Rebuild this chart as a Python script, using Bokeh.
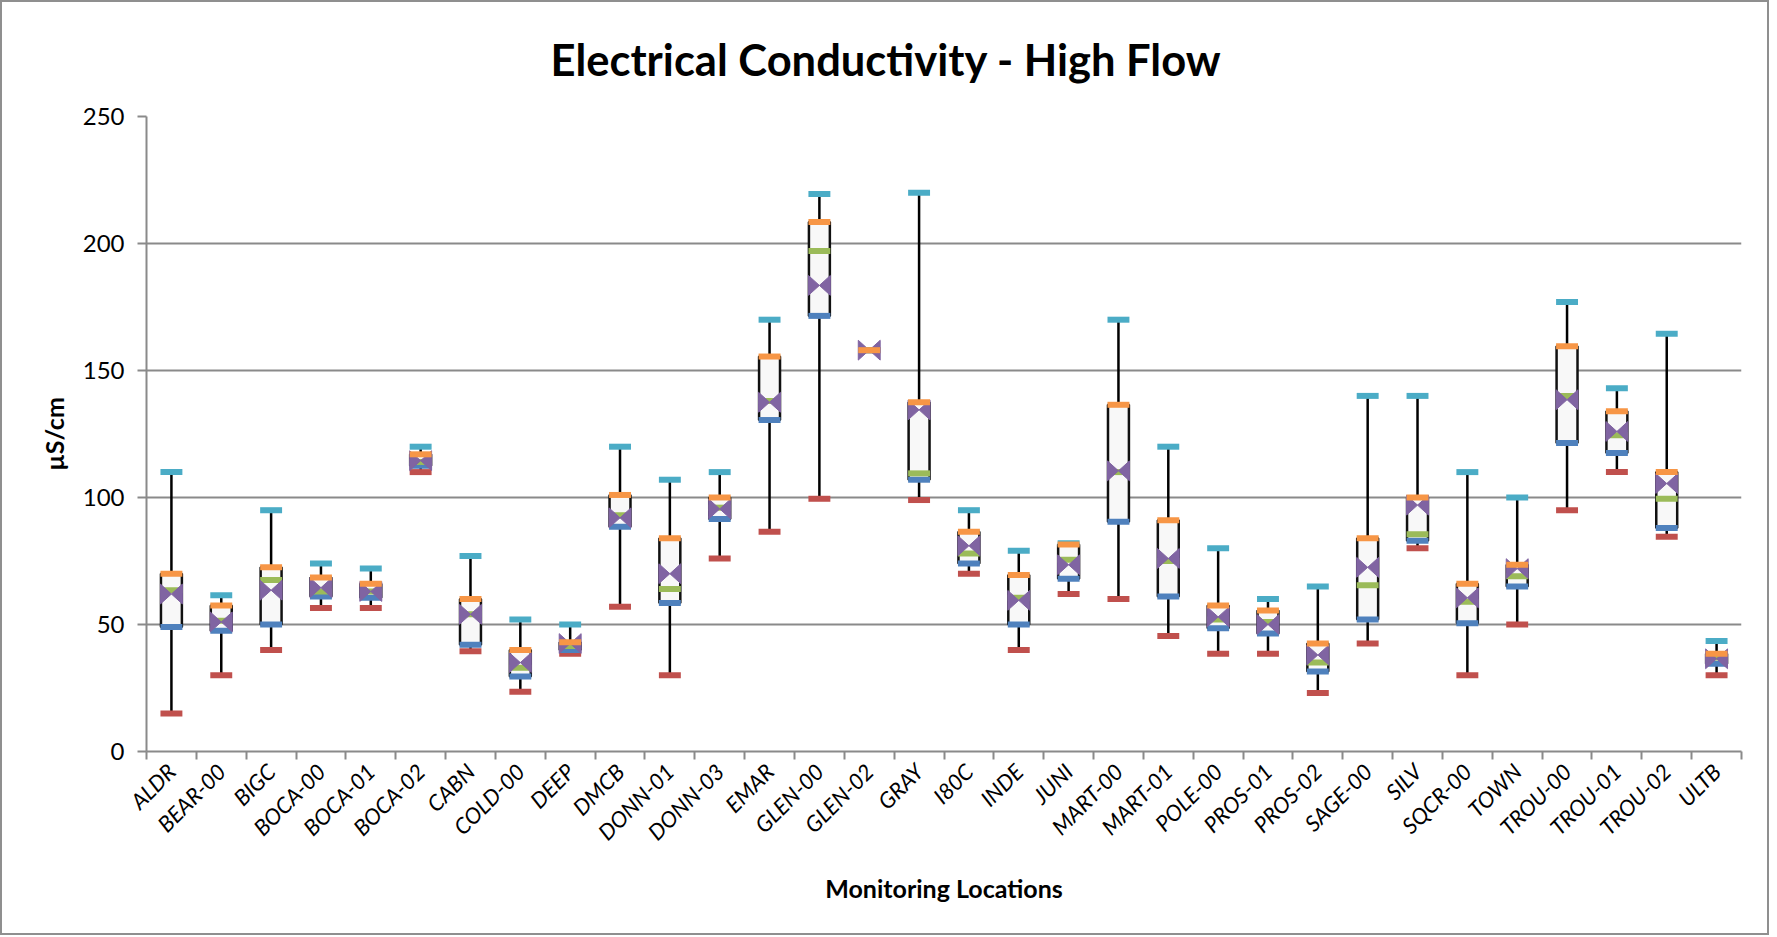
import math
from bokeh.plotting import figure
from bokeh.models import (Range1d, LinearAxis, FixedTicker, ColumnDataSource, Grid, Title)
from bokeh.embed import file_html
from bokeh.resources import INLINE

# ---------------- data ----------------
categories = ["ALDR", "BEAR-00", "BIGC", "BOCA-00", "BOCA-01", "BOCA-02", "CABN", "COLD-00",
              "DEEP", "DMCB", "DONN-01", "DONN-03", "EMAR", "GLEN-00", "GLEN-02", "GRAY",
              "I80C", "INDE", "JUNI", "MART-00", "MART-01", "POLE-00", "PROS-01", "PROS-02",
              "SAGE-00", "SILV", "SQCR-00", "TOWN", "TROU-00", "TROU-01", "TROU-02", "ULTB"]

minimum = [15, 30, 40, 56.5, 56.5, 110, 39.5, 23.5, 38.5, 57, 30, 76, 86.5, 99.5, 158, 99,
           70, 40, 62, 60, 45.5, 38.5, 38.5, 23, 42.5, 80, 30, 50, 95, 110, 84.5, 30]
quartile1 = [49, 47.5, 50, 61, 60.5, 112.5, 42, 29.5, 40, 88.5, 58.5, 91.5, 130.5, 171.5, 158, 107,
             74, 50, 68, 90.5, 61, 48.5, 46.5, 31.5, 52, 83, 50.5, 65, 121.5, 117.5, 88, 34.5]
median = [63.5, 51.5, 67.5, 63, 63, 114, 54, 33, 41.5, 93, 64, 96, 138, 197, 158, 109.5,
          78, 60.5, 75.5, 110, 75, 52, 51, 35, 65.5, 85.5, 59, 69, 140, 124.5, 99.5, 37]
mean = [62, 51, 63.5, 64.5, 63, 114.5, 54, 35, 42.5, 92, 70, 95.5, 137.5, 183.5, 158, 134.5,
        81, 59.5, 73.5, 110.5, 76, 53, 50, 38, 72.5, 97, 60.5, 72, 138.5, 126, 105.5, 36.5]
quartile3 = [70, 57.5, 72.5, 68.5, 66, 117, 60, 40, 43, 101, 84, 100, 155.5, 208.5, 158, 137.5,
             86.5, 69.5, 81.5, 136.5, 91, 57.5, 55.5, 42.5, 84, 100, 66, 73.5, 159.5, 134, 110, 38.5]
maximum = [110, 61.5, 95, 74, 72, 120, 77, 52, 50, 120, 107, 110, 170, 219.5, 158, 220,
           95, 79, 82, 170, 120, 80, 60, 65, 140, 140, 110, 100, 177, 143, 164.5, 43.5]

y_ticks = [0, 50, 100, 150, 200, 250]
title_text = "Electrical Conductivity - High Flow"
x_title = "Monitoring Locations"
y_title = "\u00b5S/cm"

# ---------------- styling ----------------
FONT = "Lato"
GRID = "#8a8a8a"
C_MAX, C_MIN, C_Q1, C_MED, C_MEAN, C_Q3 = "#4BACC6", "#C0504D", "#4F81BD", "#9BBB59", "#8064A2", "#F79646"

n = len(categories)
xc = [i + 0.5 for i in range(n)]
src = ColumnDataSource(dict(x=xc, mn=minimum, q1=quartile1, med=median, avg=mean,
                            q3=quartile3, mx=maximum))

p = figure(x_range=Range1d(0, n), y_range=Range1d(0, 250),
           frame_width=1595, frame_height=635,
           min_border_left=144, min_border_right=26, min_border_top=114, min_border_bottom=182,
           x_axis_location=None, y_axis_location=None,
           output_backend="svg", toolbar_location=None)
p.outline_line_color = None
p.background_fill_color = "white"
p.border_fill_color = "white"
p.styles = {"border": "2px solid #8f8f8f"}

# remove default grids
for r in list(p.center):
    if isinstance(r, Grid):
        r.visible = False

# title
p.title = Title(text=title_text, align="left", offset=404, vertical_align="top",
                standoff=59, text_font=FONT, text_font_style="bold",
                text_font_size="43.5px", text_color="black")

# invisible spacer between title and plot area
spacer = LinearAxis(ticker=FixedTicker(ticks=[]), axis_line_color=None,
                    major_tick_line_color=None, minor_tick_line_color=None,
                    major_tick_in=0, major_tick_out=6, minor_tick_in=0, minor_tick_out=0,
                    major_label_standoff=0)
p.add_layout(spacer, "above")

# y axis
yaxis = LinearAxis(ticker=FixedTicker(ticks=y_ticks),
                   axis_line_color=GRID, axis_line_width=2,
                   major_tick_line_color=GRID, major_tick_line_width=2,
                   major_tick_in=0, major_tick_out=9,
                   minor_tick_line_color=None,
                   major_label_text_font=FONT, major_label_text_font_size="24px",
                   major_label_text_color="black", major_label_standoff=13,
                   axis_label=y_title, axis_label_text_font=FONT,
                   axis_label_text_font_style="bold", axis_label_text_font_size="25px",
                   axis_label_text_color="black", axis_label_standoff=11)
p.add_layout(yaxis, "left")
p.add_layout(Grid(dimension=1, ticker=yaxis.ticker, grid_line_color=GRID, grid_line_width=2))

# x axis: names at category centres, ticks at category boundaries
xaxis = LinearAxis(ticker=FixedTicker(ticks=xc, minor_ticks=list(range(n + 1))),
                   major_label_overrides={x: c for x, c in zip(xc, categories)},
                   axis_line_color=GRID, axis_line_width=2,
                   major_tick_line_color=None, major_tick_in=0, major_tick_out=8,
                   minor_tick_line_color=GRID, minor_tick_line_width=2,
                   minor_tick_in=0, minor_tick_out=8,
                   major_label_orientation=math.pi / 4,
                   major_label_text_font=FONT, major_label_text_font_style="italic",
                   major_label_text_font_size="22px", major_label_text_color="black",
                   major_label_standoff=8,
                   axis_label=x_title, axis_label_text_font=FONT,
                   axis_label_text_font_style="bold", axis_label_text_font_size="25px",
                   axis_label_text_color="black", axis_label_standoff=15)
p.add_layout(xaxis, "below")

# whiskers and boxes
p.segment(x0="x", y0="mn", x1="x", y1="mx", line_color="black", line_width=2.5, source=src)
p.vbar(x="x", width=0.42, bottom="q1", top="q3", fill_color="#F8F8F8",
       line_color="#111111", line_width=2.5, source=src)

BAR_W = 0.44
for col, color in [("mx", C_MAX), ("mn", C_MIN), ("q1", C_Q1), ("med", C_MED)]:
    p.rect(x="x", y=col, width=BAR_W, height=6, height_units="screen",
           fill_color=color, line_color=None, source=src)

# mean marker (bow-tie "X")
hw, hh = 0.22, 3.9
xs = [[c - hw, c, c + hw, c + hw, c, c - hw] for c in xc]
ys = [[m + hh, m, m + hh, m - hh, m, m - hh] for m in mean]
p.patches(xs=xs, ys=ys, fill_color=C_MEAN, line_color=C_MEAN, line_width=1)

p.rect(x="x", y="q3", width=BAR_W, height=6, height_units="screen",
       fill_color=C_Q3, line_color=None, source=src)

open("out.html", "w").write(file_html(p, INLINE))
